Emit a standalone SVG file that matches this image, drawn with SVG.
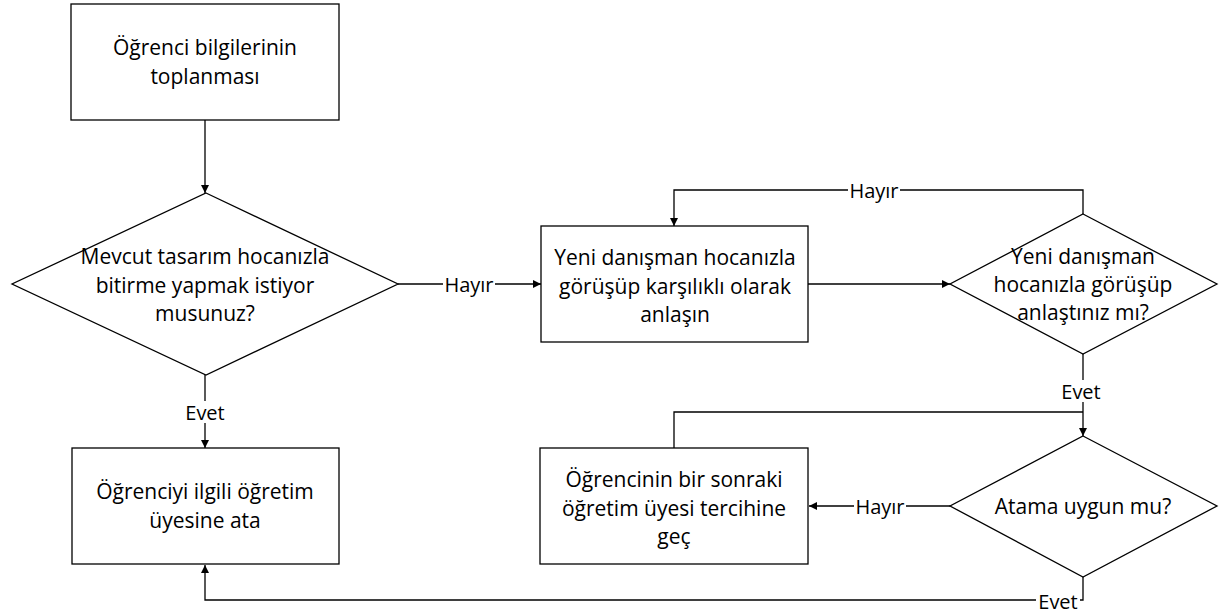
<svg xmlns="http://www.w3.org/2000/svg" width="1219" height="614" viewBox="0 0 1219 614">
<defs>
<marker id="ah" viewBox="0 0 10 10" refX="10" refY="5" markerWidth="8" markerHeight="8" markerUnits="userSpaceOnUse" orient="auto">
<path d="M0,0 L10,5 L0,10 z" fill="#000"/>
</marker>
</defs>
<style>
.shape{fill:#fff;stroke:#000;stroke-width:1.3}
.t{font-family:"Open Sans","Liberation Sans",sans-serif;font-size:21px;fill:#000;text-anchor:middle}
.c{fill:none;stroke:#000;stroke-width:1.3}
.lbl{font-family:"Open Sans","Liberation Sans",sans-serif;font-size:20px;fill:#000;text-anchor:middle}
.bg{fill:#fff}
</style>
<rect width="1219" height="614" fill="#fff"/>
<g id="connectors">
<path class="c" d="M205,120 V193" marker-end="url(#ah)"/>
<path class="c" d="M398,284 H541" marker-end="url(#ah)"/>
<path class="c" d="M808,284 H950" marker-end="url(#ah)"/>
<path class="c" d="M1083,214 V190 H674 V226" marker-end="url(#ah)"/>
<path class="c" d="M205,375 V448" marker-end="url(#ah)"/>
<path class="c" d="M1083,354 V436" marker-end="url(#ah)"/>
<path class="c" d="M674,448 V412 H1083"/>
<path class="c" d="M950,506 H809" marker-end="url(#ah)"/>
<path class="c" d="M1083,577 V600 H205 V565" marker-end="url(#ah)"/>
<rect class="bg" x="443" y="274" width="52" height="22"/>
<text class="lbl" x="469" y="292">Hayır</text>
<rect class="bg" x="848" y="180" width="52" height="22"/>
<text class="lbl" x="874" y="198">Hayır</text>
<rect class="bg" x="854" y="496" width="52" height="22"/>
<text class="lbl" x="880" y="514">Hayır</text>
<rect class="bg" x="183" y="401" width="46" height="22"/>
<text class="lbl" x="205" y="420">Evet</text>
<rect class="bg" x="1058" y="380" width="46" height="22"/>
<text class="lbl" x="1081" y="399">Evet</text>
<rect class="bg" x="1036" y="592" width="44" height="20"/>
<text class="lbl" x="1058" y="609">Evet</text>
</g>
<g id="n1">
<rect class="shape" x="71" y="4" width="268" height="116"/>
<text class="t" x="205" y="55">Öğrenci bilgilerinin</text>
<text class="t" x="205" y="84">toplanması</text>
</g>
<g id="d1">
<polygon class="shape" points="206,193 398,284 206,375 12,284"/>
<text class="t" x="205" y="264">Mevcut tasarım hocanızla</text>
<text class="t" x="205" y="293">bitirme yapmak istiyor</text>
<text class="t" x="205" y="321">musunuz?</text>
</g>
<g id="n2">
<rect class="shape" x="541" y="226" width="267" height="116"/>
<text class="t" x="675" y="265">Yeni danışman hocanızla</text>
<text class="t" x="675" y="294">görüşüp karşılıklı olarak</text>
<text class="t" x="675" y="322">anlaşın</text>
</g>
<g id="d2">
<polygon class="shape" points="1083,214 1217,284 1083,354 950,284"/>
<text class="t" x="1083" y="264">Yeni danışman</text>
<text class="t" x="1083" y="292">hocanızla görüşüp</text>
<text class="t" x="1083" y="320">anlaştınız mı?</text>
</g>
<g id="d3">
<polygon class="shape" points="1083,436 1217,506 1083,577 950,506"/>
<text class="t" x="1083" y="514">Atama uygun mu?</text>
</g>
<g id="n3">
<rect class="shape" x="540" y="448" width="268" height="116"/>
<text class="t" x="674" y="487">Öğrencinin bir sonraki</text>
<text class="t" x="674" y="516">öğretim üyesi tercihine</text>
<text class="t" x="674" y="544">geç</text>
</g>
<g id="n4">
<rect class="shape" x="72" y="448" width="267" height="116"/>
<text class="t" x="205" y="499">Öğrenciyi ilgili öğretim</text>
<text class="t" x="205" y="528">üyesine ata</text>
</g>
</svg>
